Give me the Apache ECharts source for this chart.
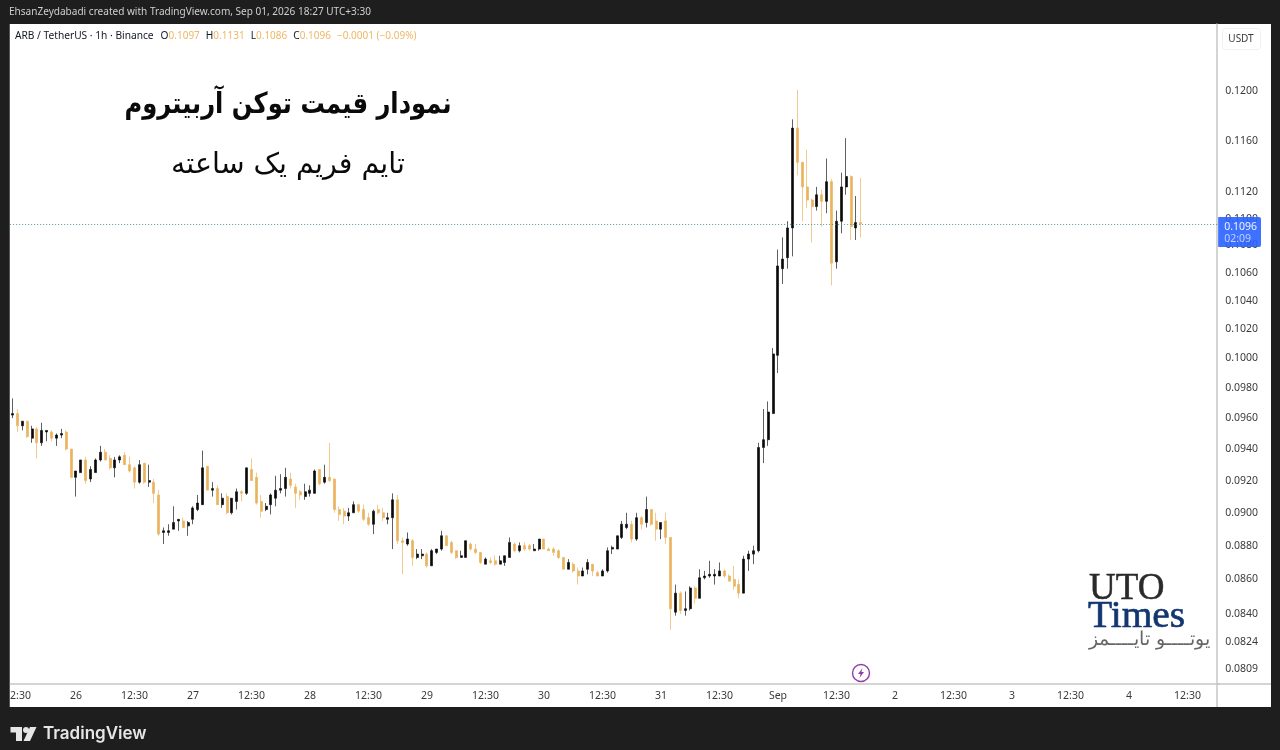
<!DOCTYPE html>
<html>
<head>
<meta charset="utf-8">
<style>html,body{margin:0;padding:0;background:#1e1e1e;overflow:hidden}#c{width:1280px;height:750px}</style>
<script src="https://cdn.jsdelivr.net/npm/echarts@6/dist/echarts.min.js"></script>
</head>
<body>
<div id="c"></div>
<script>
// Hourly candles, in exchange ticks (1 tick = 0.0001 USDT)
const TICK = 0.0001;
const opens = [
962,963,955,958,947,953,944,951,951,947,949,951,940,922,925,933,921,925,933,938,934,928,933,936,930,
928,919,931,919,919,911,888,888,890,895,895,892,896,902,905,929,914,915,905,910,900,907,913,912,927,
922,907,902,905,909,914,915,921,916,913,910,912,912,927,919,922,921,902,901,898,900,905,902,897,893,
902,900,896,897,908,883,881,883,873,874,875,868,876,878,886,882,877,873,873,881,878,876,869,871,871,
869,870,873,881,877,880,880,877,878,884,878,878,877,873,866,869,865,862,866,869,864,862,865,878,878,
885,891,893,884,897,894,902,895,890,895,885,841,852,842,843,855,849,861,862,862,862,865,862,860,857,
852,872,875,877,941,946,963,1002,1063,1071,1093,1170,1143,1124,1114,1109,1118,1113,1128,1068,1098,1124,1132,1093,1097];
const closes = [
963,955,958,948,953,944,952,952,947,949,950,940,922,926,933,920,927,933,938,933,928,933,935,930,926,
919,930,919,920,912,887,889,889,894,896,891,894,903,906,928,914,915,905,909,900,909,913,912,928,920,
906,901,904,911,914,915,922,917,912,911,913,914,926,918,922,920,902,899,898,900,905,901,896,893,901,
900,897,897,908,883,882,884,873,875,875,868,877,878,886,880,876,873,874,883,878,876,870,872,870,869,
871,874,882,877,880,878,878,878,884,878,877,876,873,866,870,865,862,865,870,865,862,865,877,879,886,
893,893,884,897,893,902,893,890,894,885,843,852,842,843,855,849,861,862,863,863,865,862,859,856,852,
872,875,877,941,946,964,1003,1065,1070,1093,1170,1143,1124,1114,1109,1118,1113,1128,1067,1098,1124,1132,1094,1097,1096];
const lows = [
960,951,952,947,944,934,942,945,945,942,947,939,922,910,925,918,919,925,932,933,927,922,931,930,925,
915,918,918,916,906,886,881,886,890,889,891,886,893,901,905,914,910,905,903,899,899,902,907,911,920,
905,897,901,899,904,912,910,915,903,908,908,910,912,917,918,919,900,895,893,895,900,900,895,892,887,
899,895,893,878,881,863,880,868,872,872,867,868,875,877,880,875,872,873,873,877,875,869,869,869,868,
869,868,873,876,876,877,877,877,877,878,877,874,872,866,866,864,857,862,863,862,862,862,864,875,878,
884,890,882,883,890,891,892,883,884,881,831,839,840,839,842,846,849,860,861,857,862,861,859,854,849,
852,865,869,876,931,942,963,990,1052,1063,1072,1133,1098,1108,1082,1106,1094,1104,1051,1063,1089,1118,1084,1084,1086];
const highs = [
973,966,958,958,955,954,957,952,952,950,953,952,940,926,933,935,929,934,942,940,936,935,936,938,935,
929,933,931,930,921,914,891,893,904,896,897,895,904,911,939,929,919,917,912,912,909,915,914,928,934,
925,911,906,912,923,924,928,925,918,914,918,917,927,927,930,944,921,904,903,903,907,905,905,900,902,
905,903,900,912,911,885,888,884,878,878,876,878,878,889,886,883,877,877,883,882,881,876,873,873,874,
874,874,885,882,882,882,881,881,884,884,879,879,878,873,872,870,867,867,872,869,865,866,879,880,886,
895,900,895,900,898,910,902,900,894,900,885,857,853,853,856,856,866,865,871,866,870,866,863,868,860,
874,877,880,944,966,971,1007,1077,1086,1098,1177,1201,1143,1153,1115,1124,1122,1146,1130,1106,1135,1162,1133,1117,1131];

const priceTicks = [0.12,0.116,0.112,0.11,0.108,0.106,0.104,0.102,0.1,0.098,0.096,0.094,0.092,0.09,0.088,0.086,0.084,0.0824,0.0809];
const dayLabels = ['26','27','28','29','30','31','Sep','2','3','4'];
const lastPrice = 0.1096;
const countdown = '02:09';

// One label per band: "12:30" 12 hours before / after each day start, blanks elsewhere
const BAND_COUNT = 248, FIRST_DAY = 13;
const categories = new Array(BAND_COUNT).fill('');
categories[1] = '12:30';
dayLabels.forEach((d, k) => {
  const at = FIRST_DAY + 24 * k;
  categories[at] = d;
  categories[at + 12] = '12:30';
});

const candles = opens.map((o, i) => [o * TICK, closes[i] * TICK, lows[i] * TICK, highs[i] * TICK]);

const UI = '"Noto Sans", sans-serif', ORANGE = '#eab45f';
const chart = echarts.init(document.getElementById('c'), null, {renderer: 'canvas'});
chart.setOption({
  animation: false,
  backgroundColor: '#1e1e1e',
  grid: {left: 10.16, top: 24, width: 1209, height: 660, containLabel: false},
  xAxis: {
    type: 'category', data: categories, boundaryGap: true,
    axisLine: {show: true, lineStyle: {color: '#c6c6c6', width: 1.5}},
    axisTick: {show: false}, splitLine: {show: false},
    axisLabel: {
      interval: (i, v) => v !== '', hideOverlap: false, margin: 7,
      color: '#3a3a3a', fontFamily: UI, fontSize: 10.5
    }
  },
  yAxis: {
    type: 'log', logBase: 10, position: 'right', offset: -2,
    min: 0.08008, max: 0.12561,
    axisLine: {show: true, onZero: false, lineStyle: {color: '#c6c6c6', width: 1.5}},
    axisTick: {show: false}, splitLine: {show: false}, minorTick: {show: false},
    axisLabel: {
      customValues: priceTicks, margin: 8, color: '#3a3a3a', fontFamily: UI, fontSize: 10.5,
      padding: [4, 0, 0, 0],
      formatter: v => Number(v).toFixed(4)
    }
  },
  series: [{
    type: 'candlestick', data: candles, barWidth: 2.5, large: false, z: 3,
    itemStyle: {
      color: '#0a0a0a', color0: ORANGE,
      borderColor: 'rgba(10,10,10,0.65)', borderColor0: 'rgba(234,180,95,0.7)', borderWidth: 1
    },
    markLine: {
      silent: true, symbol: 'none', animation: false, precision: 4,
      lineStyle: {type: [1, 2], color: '#3f8f8f', width: 1, opacity: 0.9},
      data: [{yAxis: lastPrice}],
      label: {
        position: 'end', distance: -1, offset: [0, 8],
        formatter: '{a|' + lastPrice.toFixed(4) + '}\n{b|' + countdown + '}',
        backgroundColor: '#2962ff', borderRadius: [0, 2, 2, 0], padding: [4, 4, 2, 6],
        rich: {
          a: {color: '#ffffff', fontFamily: UI, fontSize: 10.5, lineHeight: 12},
          b: {color: '#cfdcff', fontFamily: UI, fontSize: 10.5, lineHeight: 12}
        }
      },
      z: 20
    }
  }],
  graphic: {elements: [
    {type: 'rect', z: -10, silent: true, shape: {x: 9.5, y: 24, width: 1261.5, height: 683}, style: {fill: '#ffffff'}},
    // left frame hides the clipped first label
    {type: 'rect', z: 200, silent: true, shape: {x: 0, y: 24, width: 9.5, height: 684}, style: {fill: '#1e1e1e'}},
    {type: 'line', z: 1, silent: true, shape: {x1: 1217, y1: 684, x2: 1271, y2: 684}, style: {stroke: '#c6c6c6', lineWidth: 1.5}},
    {type: 'line', z: 1, silent: true, shape: {x1: 1217, y1: 684, x2: 1217, y2: 707}, style: {stroke: '#c6c6c6', lineWidth: 1.5}},
    {type: 'rect', z: 1, silent: true, shape: {x: 1222.5, y: 28.5, width: 38, height: 21, r: 3}, style: {fill: 'none', stroke: '#f0f0f0', lineWidth: 1}},
    {type: 'text', z: 10, silent: true, x: 1241, y: 39.5, style: {text: 'USDT', fill: '#3a3a3a', font: '10px ' + UI, textAlign: 'center', textVerticalAlign: 'middle'}},
    {type: 'text', z: 10, silent: true, x: 9, y: 12, style: {text: 'EhsanZeydabadi created with TradingView.com, Sep 01, 2026 18:27 UTC+3:30', fill: '#cfcfcf', font: '10.05px ' + UI, textVerticalAlign: 'middle'}},
    {type: 'text', z: 10, silent: true, x: 15, y: 36, style: {
      text: '{d|ARB / TetherUS · 1h · Binance}{g| }{d|O}{o|0.1097}{s| }{d|H}{o|0.1131}{s| }{d|L}{o|0.1086}{s| }{d|C}{o|0.1096}{s| }{o|−0.0001 (−0.09%)}',
      textVerticalAlign: 'middle',
      rich: {
        d: {fill: '#131722', font: '10.2px ' + UI}, o: {fill: '#efb766', font: '10px ' + UI},
        g: {width: 7, font: '10px ' + UI}, s: {width: 6, font: '10px ' + UI}
      }
    }},
    // titles
    {type: 'text', z: 10, silent: true, x: 288, y: 105, scaleX: 0.835, style: {text: 'نمودار قیمت توکن آربیتروم', fill: '#0a0a0a', font: 'bold 29px "DejaVu Sans"', textAlign: 'center', textVerticalAlign: 'middle'}},
    {type: 'text', z: 10, silent: true, x: 288, y: 165.5, style: {text: 'تایم فریم یک ساعته', fill: '#0a0a0a', font: '28.5px "DejaVu Sans"', textAlign: 'center', textVerticalAlign: 'middle'}},
    // watermark
    {type: 'text', z: 10, silent: true, x: 1089, y: 589, style: {text: 'UTO', fill: '#2a2a2a', stroke: '#2a2a2a', lineWidth: 0.5, font: '37px "Liberation Serif"', textVerticalAlign: 'middle'}},
    {type: 'text', z: 10, silent: true, x: 1088, y: 617.5, scaleX: 1.065, style: {text: 'Times', fill: '#12366f', stroke: '#12366f', lineWidth: 0.6, font: '37px "Liberation Serif"', textVerticalAlign: 'middle'}},
    {type: 'text', z: 10, silent: true, x: 1210, y: 640, style: {text: 'یوتــــو تایــــمز', fill: '#666666', font: '300 19px "DejaVu Sans"', textAlign: 'right', textVerticalAlign: 'middle'}},
    // lightning badge
    {type: 'circle', z: 10, silent: true, shape: {cx: 861, cy: 673, r: 8.5}, style: {fill: '#ffffff', stroke: '#8e3fa8', lineWidth: 1.4}},
    {type: 'polygon', z: 10, silent: true, shape: {points: [[862.5,668],[858,674],[860.6,674],[859.5,678],[864,672],[861.4,672]]}, style: {fill: '#8e3fa8'}},
    // footer logo
    {type: 'polygon', z: 10, silent: true, shape: {points: [[10.5,727],[22,727],[22,741],[16,741],[16,732.5],[10.5,732.5]]}, style: {fill: '#e6e6e6'}},
    {type: 'circle', z: 10, silent: true, shape: {cx: 26, cy: 730, r: 3}, style: {fill: '#e6e6e6'}},
    {type: 'polygon', z: 10, silent: true, shape: {points: [[30,727],[36.5,727],[30,741],[23.5,741]]}, style: {fill: '#e6e6e6'}},
    {type: 'text', z: 10, silent: true, x: 43, y: 734, style: {text: 'TradingView', fill: '#e6e6e6', font: '600 17px Inter, "Noto Sans"', textVerticalAlign: 'middle'}}
  ]}
});
</script>
</body>
</html>
